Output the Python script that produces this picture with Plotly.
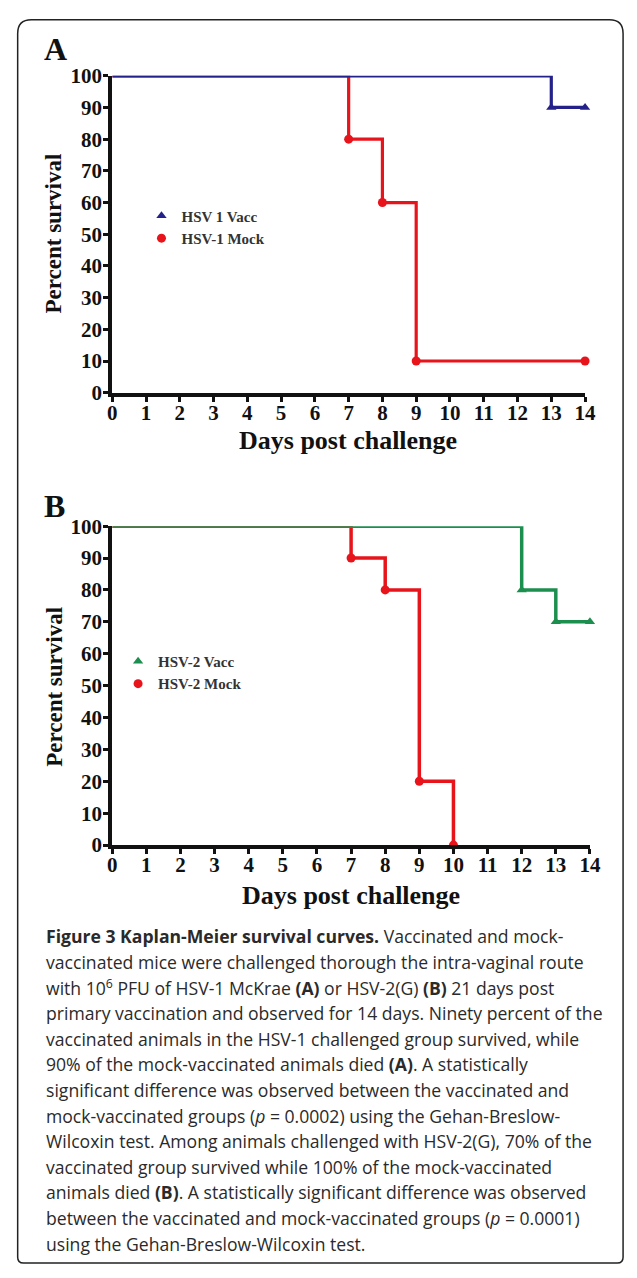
import plotly.graph_objects as go

W, H = 637, 1278

# ---------------- data ----------------
days_a_vacc = [0, 13, 14]
surv_a_vacc = [100, 90, 90]
days_a_mock = [0, 7, 8, 9, 14]
surv_a_mock = [100, 80, 60, 10, 10]

days_b_vacc = [0, 12, 13, 14]
surv_b_vacc = [100, 80, 70, 70]
days_b_mock = [0, 7, 8, 9, 10]
surv_b_mock = [100, 90, 80, 20, 0]

x_ticks = list(range(0, 15))
y_ticks = list(range(0, 101, 10))

name_a_vacc = "HSV 1 Vacc"
name_a_mock = "HSV-1 Mock"
name_b_vacc = "HSV-2 Vacc"
name_b_mock = "HSV-2 Mock"

caption_lines = [
    "<b>Figure 3 Kaplan-Meier survival curves.</b> Vaccinated and mock-",
    "vaccinated mice were challenged thorough the intra-vaginal route",
    "with 10<sup>6</sup> PFU of HSV-1 McKrae <b>(A)</b> or HSV-2(G) <b>(B)</b> 21 days post",
    "primary vaccination and observed for 14 days. Ninety percent of the",
    "vaccinated animals in the HSV-1 challenged group survived, while",
    "90% of the mock-vaccinated animals died <b>(A)</b>. A statistically",
    "significant difference was observed between the vaccinated and",
    "mock-vaccinated groups (<i>p</i> = 0.0002) using the Gehan-Breslow-",
    "Wilcoxin test. Among animals challenged with HSV-2(G), 70% of the",
    "vaccinated group survived while 100% of the mock-vaccinated",
    "animals died <b>(B)</b>. A statistically significant difference was observed",
    "between the vaccinated and mock-vaccinated groups (<i>p</i> = 0.0001)",
    "using the Gehan-Breslow-Wilcoxin test.",
]

BLUE = "#24228a"
RED = "#e8141b"
GREEN = "#1c8f4e"
SERIF = "Liberation Serif"
INK = "#111111"


def px(x):
    return x / W


def py(y):
    return 1 - y / H


fig = go.Figure()


def add_series(days, surv, color, name, symbol, xa, ya, legend, lw, rank):
    fig.add_trace(go.Scatter(
        x=days, y=surv, mode="lines", line=dict(color=color, width=lw, shape="hv"),
        xaxis=xa, yaxis=ya, showlegend=False, hoverinfo="skip", cliponaxis=False))
    fig.add_trace(go.Scatter(
        x=days[1:], y=surv[1:], mode="markers", name=name, legendrank=rank,
        marker=dict(color=color, symbol=symbol, size=9, line=dict(width=0)),
        xaxis=xa, yaxis=ya, legend=legend, cliponaxis=False))


# Panel A (mock drawn first so the vaccinated line lies on top)
add_series(days_a_mock, surv_a_mock, RED, name_a_mock, "circle", "x", "y", "legend", 3.2, 2)
add_series(days_a_vacc, surv_a_vacc, BLUE, name_a_vacc, "triangle-up", "x", "y", "legend", 3.2, 1)
# Panel B
add_series(days_b_mock, surv_b_mock, RED, name_b_mock, "circle", "x2", "y2", "legend2", 3.5, 2)
add_series(days_b_vacc, surv_b_vacc, GREEN, name_b_vacc, "triangle-up", "x2", "y2", "legend2", 3.5, 1)

tickfont = dict(family=SERIF, size=21, color=INK, weight="bold")
axis_common = dict(
    showgrid=False, zeroline=False, showline=True, linecolor=INK,
    ticks="outside", ticklen=5, tickwidth=3, tickcolor=INK,
    tickfont=tickfont, fixedrange=True,
)
legfont = dict(family=SERIF, size=15, color="#333333", weight="bold")

fig.update_layout(
    width=W, height=H,
    margin=dict(l=0, r=0, t=0, b=0),
    paper_bgcolor="white", plot_bgcolor="white",
    xaxis=dict(domain=[px(110), px(595)], range=[0, 14], tickvals=x_ticks,
               anchor="y", linewidth=4, ticklabelstandoff=-7, **axis_common),
    yaxis=dict(domain=[py(388), py(65)], range=[0, 100], tickvals=y_ticks,
               anchor="x", linewidth=4, ticklabelstandoff=-3, **axis_common),
    xaxis2=dict(domain=[px(110), px(600)], range=[0, 14], tickvals=x_ticks,
                anchor="y2", linewidth=4, ticklabelstandoff=-7, **axis_common),
    yaxis2=dict(domain=[py(849), py(524)], range=[0, 100], tickvals=y_ticks,
                anchor="x2", linewidth=4, ticklabelstandoff=-3, **axis_common),
    legend=dict(x=px(140), y=py(191), xanchor="left", yanchor="top",
                font=legfont, bgcolor="rgba(0,0,0,0)", tracegroupgap=0,
                itemwidth=30, traceorder="normal"),
    legend2=dict(x=px(116), y=py(645), xanchor="left", yanchor="top",
                 font=legfont, bgcolor="rgba(0,0,0,0)", tracegroupgap=0,
                 itemwidth=30, traceorder="normal"),
    showlegend=True,
)

annotations = []
# panel letters
annotations.append(dict(text="<b>A</b>", x=px(38), y=py(38), xanchor="left", yanchor="middle",
                        font=dict(family=SERIF, size=32, color=INK)))
annotations.append(dict(text="<b>B</b>", x=px(38), y=py(503), xanchor="left", yanchor="middle",
                        font=dict(family=SERIF, size=32, color=INK)))
# y-axis titles
for yc in (226, 688):
    annotations.append(dict(text="<b>Percent survival</b>", x=px(50), y=py(yc), textangle=-90,
                            xanchor="center", yanchor="middle",
                            font=dict(family=SERIF, size=23, color=INK)))
# x-axis titles
for yc, xc in ((437, 352), (900, 355)):
    annotations.append(dict(text="<b>Days post challenge</b>", x=px(xc), y=py(yc),
                            xanchor="center", yanchor="middle",
                            font=dict(family=SERIF, size=26, color=INK)))
# caption
for i, line in enumerate(caption_lines):
    annotations.append(dict(text=line, x=px(40), y=py(942 + i * 26.1), xanchor="left",
                            yanchor="middle", align="left",
                            font=dict(family="Open Sans", size=17.6, color="#2a2a2a")))
for a in annotations:
    a.update(xref="paper", yref="paper", showarrow=False)
fig.update_layout(annotations=annotations)

# rounded border frame
L, T, R, B = 13, 8, 634, 1275
rt, rb = 14, 6
path = (f"M {px(L)},{py(T + rt)} "
        f"Q {px(L)},{py(T)} {px(L + rt)},{py(T)} "
        f"L {px(R - rt)},{py(T)} "
        f"Q {px(R)},{py(T)} {px(R)},{py(T + rt)} "
        f"L {px(R)},{py(B - rb)} "
        f"Q {px(R)},{py(B)} {px(R - rb)},{py(B)} "
        f"L {px(L + rb)},{py(B)} "
        f"Q {px(L)},{py(B)} {px(L)},{py(B - rb)} Z")
fig.add_shape(type="path", path=path, xref="paper", yref="paper",
              line=dict(color="#222222", width=1.5), layer="below")

fig.write_html("out.html",
               config={"displayModeBar": False, "staticPlot": True},
               post_script="document.body.style.margin='0';document.body.style.overflow='hidden';")
